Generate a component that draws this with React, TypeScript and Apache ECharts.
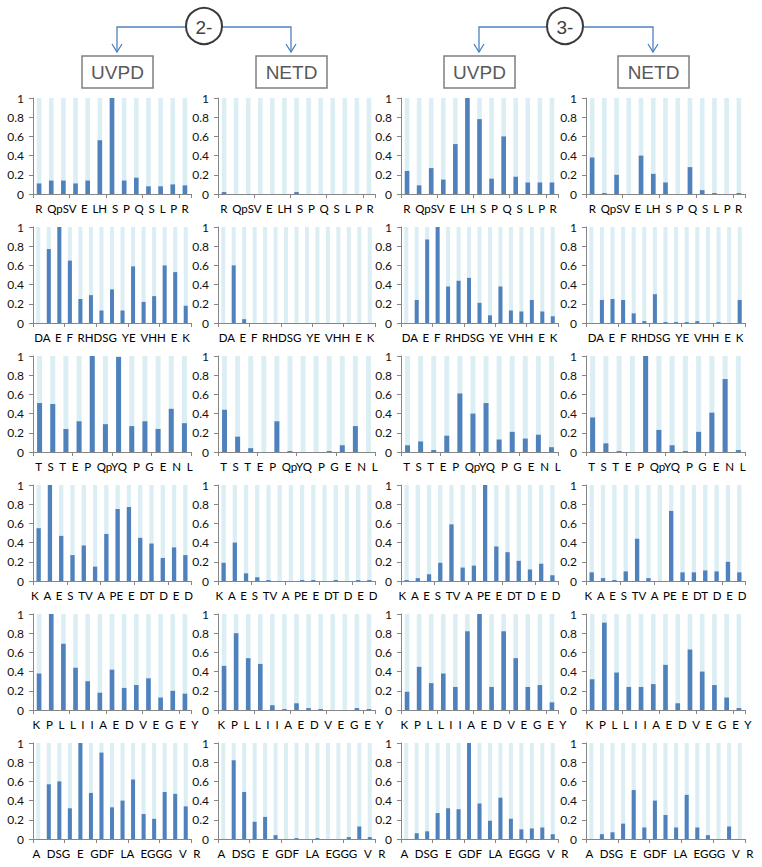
import React, { useEffect, useRef } from "react";
import * as echarts from "echarts";

// Residue sequences (one per row); bars are cleavage sites between consecutive residues
const residues: string[][] = [
  ["R", "Q", "pS", "V", "E", "L", "H", "S", "P", "Q", "S", "L", "P", "R"],
  ["D", "A", "E", "F", "R", "H", "D", "S", "G", "Y", "E", "V", "H", "H", "E", "K"],
  ["T", "S", "T", "E", "P", "Q", "pY", "Q", "P", "G", "E", "N", "L"],
  ["K", "A", "E", "S", "T", "V", "A", "P", "E", "E", "D", "T", "D", "E", "D"],
  ["K", "P", "L", "L", "I", "I", "A", "E", "D", "V", "E", "G", "E", "Y"],
  ["A", "D", "S", "G", "E", "G", "D", "F", "L", "A", "E", "G", "G", "G", "V", "R"],
];

// Sequence text shown under each panel of a row
const rowLabels: string[] = [
  "R QpSV E LH S P Q S L P R",
  "DA E F RHDSG YE VHH E K",
  "T S T E P QpYQ P G E N L",
  "K A E S TV A PE E DT D E D",
  "K P L L I I A E D V E G E Y",
  "A DSG E GDF LA EGGG V R",
];

const uvpd2: number[][] = [
  [0.11, 0.14, 0.14, 0.11, 0.14, 0.56, 1.0, 0.14, 0.17, 0.08, 0.08, 0.1, 0.09],
  [0, 0.77, 1.0, 0.65, 0.25, 0.29, 0.13, 0.35, 0.13, 0.59, 0.22, 0.28, 0.6, 0.53, 0.18],
  [0.51, 0.5, 0.24, 0.32, 1.0, 0.29, 0.99, 0.27, 0.32, 0.24, 0.45, 0.3],
  [0.55, 1.0, 0.47, 0.27, 0.37, 0.15, 0.49, 0.75, 0.77, 0.45, 0.39, 0.24, 0.35, 0.27],
  [0.38, 1.0, 0.69, 0.44, 0.3, 0.18, 0.42, 0.23, 0.26, 0.33, 0.13, 0.2, 0.17],
  [0, 0.57, 0.6, 0.32, 1.0, 0.48, 0.9, 0.33, 0.4, 0.62, 0.26, 0.21, 0.49, 0.47, 0.34],
];

const netd2: number[][] = [
  [0.02, 0, 0, 0, 0, 0, 0.02, 0, 0, 0, 0, 0, 0],
  [0, 0.6, 0.04, 0, 0, 0, 0, 0, 0, 0, 0, 0, 0, 0, 0],
  [0.44, 0.16, 0.04, 0, 0.32, 0.01, 0, 0, 0.01, 0.07, 0.27, 0],
  [0.19, 0.4, 0.08, 0.04, 0.01, 0, 0, 0.01, 0.01, 0, 0.01, 0, 0.01, 0.01],
  [0.46, 0.8, 0.54, 0.48, 0.05, 0.01, 0.07, 0.02, 0.01, 0, 0, 0.02, 0.01],
  [0, 0.82, 0.49, 0.18, 0.23, 0.04, 0, 0.01, 0, 0.01, 0, 0, 0.02, 0.13, 0.02],
];

const uvpd3: number[][] = [
  [0.24, 0.09, 0.27, 0.15, 0.52, 1.0, 0.78, 0.16, 0.6, 0.18, 0.12, 0.12, 0.12],
  [0, 0.24, 0.87, 1.0, 0.38, 0.44, 0.47, 0.21, 0.08, 0.38, 0.13, 0.12, 0.24, 0.12, 0.07],
  [0.07, 0.11, 0.02, 0.17, 0.61, 0.4, 0.51, 0.13, 0.21, 0.14, 0.18, 0.05],
  [0.01, 0.03, 0.07, 0.19, 0.59, 0.14, 0.16, 1.0, 0.36, 0.3, 0.21, 0.12, 0.18, 0.06],
  [0.19, 0.45, 0.28, 0.38, 0.24, 0.82, 1.0, 0.24, 0.82, 0.54, 0.24, 0.26, 0.08],
  [0, 0.06, 0.08, 0.27, 0.32, 0.31, 1.0, 0.37, 0.19, 0.43, 0.21, 0.1, 0.11, 0.12, 0.05],
];

const netd3: number[][] = [
  [0.38, 0.01, 0.2, 0, 0.4, 0.21, 0.12, 0, 0.28, 0.04, 0.01, 0, 0.01],
  [0, 0.24, 0.25, 0.24, 0.1, 0.02, 0.3, 0.01, 0.01, 0.01, 0.02, 0, 0.01, 0, 0.24],
  [0.36, 0.09, 0.01, 0, 1.0, 0.23, 0.07, 0.01, 0.21, 0.41, 0.76, 0.02],
  [0.09, 0.03, 0.01, 0.1, 0.44, 0.03, 0, 0.73, 0.09, 0.09, 0.11, 0.1, 0.2, 0.09],
  [0.32, 0.91, 0.39, 0.24, 0.24, 0.27, 0.47, 0.07, 0.63, 0.4, 0.26, 0.13, 0.02],
  [0, 0.05, 0.07, 0.16, 0.51, 0.12, 0.4, 0.25, 0.12, 0.46, 0.12, 0.04, 0, 0.13, 0],
];

const chargeStates = ["2-", "3-"];
const methods = ["UVPD", "NETD"];

const BAR = "#4f81bd";
const STRIPE = "#dbeef4";
const AXIS = "#868686";
const FONT = "Lato";
const LABEL_SIZE = 11.5;

// Widen a sequence string with a uniform gap (no-break + sixth-em spaces) to span the target width
function spreadLabel(label: string, target: number): string {
  const tokens = label.split(/\s+/);
  const canvas = document.createElement("canvas");
  const ctx = canvas.getContext("2d");
  const make = (a: number, b: number) =>
    tokens.join("\u00a0".repeat(a) + "\u2006".repeat(b));
  if (!ctx) return make(2, 0);
  ctx.font = `${LABEL_SIZE}px ${FONT}`;
  let best = make(1, 0);
  let bestErr = Infinity;
  for (let a = 1; a <= 5; a++) {
    for (let b = 0; b <= 3; b++) {
      const s = make(a, b);
      const err = Math.abs(ctx.measureText(s).width - target);
      if (err < bestErr) {
        bestErr = err;
        best = s;
      }
    }
  }
  return best;
}

export default function App() {
  const ref = useRef<HTMLDivElement>(null);

  useEffect(() => {
    document.body.style.margin = "0";
    if (!ref.current) return;
    const chart = echarts.init(ref.current, undefined, { renderer: "svg" });

    const columns = [uvpd2, netd2, uvpd3, netd3];
    const colLeft = [33, 218, 401, 586];
    const colWidth = [158, 157, 157, 159];
    const rowTop = [98, 227, 356, 485, 614, 743];
    const rowLabelWidth = [158, 155, 162, 157, 165, 167];
    const plotH = 96;

    const grids: any[] = [];
    const xAxes: any[] = [];
    const yAxes: any[] = [];
    const series: any[] = [];

    for (let r = 0; r < 6; r++) {
      const res = residues[r];
      const cats = res.slice(0, -1).map((a, i) => a + "|" + res[i + 1]);
      const labelText = spreadLabel(rowLabels[r], rowLabelWidth[r]);
      for (let c = 0; c < 4; c++) {
        const idx = grids.length;
        const pad = Math.max(0, rowLabelWidth[r] - colWidth[c]);
        grids.push({
          left: colLeft[c],
          top: rowTop[r],
          width: colWidth[c],
          height: plotH,
          containLabel: false,
        });
        xAxes.push({
          type: "category",
          gridIndex: idx,
          data: cats,
          boundaryGap: true,
          axisLine: { lineStyle: { color: AXIS, width: 1 } },
          axisTick: { show: true, length: 4, lineStyle: { color: AXIS } },
          axisLabel: { show: false },
          splitLine: { show: false },
          name: labelText,
          nameLocation: "middle",
          nameGap: 8,
          nameTextStyle: {
            fontSize: LABEL_SIZE,
            color: "#000",
            fontFamily: FONT,
            verticalAlign: "top",
            padding: [0, 0, 0, pad],
          },
        });
        yAxes.push({
          type: "value",
          gridIndex: idx,
          min: 0,
          max: 1,
          interval: 0.2,
          axisLine: { show: true, lineStyle: { color: AXIS, width: 1 } },
          axisTick: { show: true, length: 4, lineStyle: { color: AXIS } },
          axisLabel: {
            fontSize: 12,
            color: "#111",
            fontFamily: FONT,
            margin: 9,
          },
          splitLine: { show: false },
        });
        series.push({
          type: "bar",
          xAxisIndex: idx,
          yAxisIndex: idx,
          data: columns[c][r],
          barWidth: "38%",
          showBackground: true,
          backgroundStyle: { color: STRIPE },
          itemStyle: { color: BAR },
          silent: true,
        });
      }
    }

    // Header graphics
    const headers = [
      { cx: 204, left: 117, right: 291 },
      { cx: 565, left: 479, right: 653 },
    ];
    const graphic: any[] = [];
    const lineY = 27;
    const arrowY = 52;
    headers.forEach((h, i) => {
      graphic.push({
        type: "polyline",
        shape: { points: [[h.left, arrowY], [h.left, lineY], [h.right, lineY], [h.right, arrowY]] },
        style: { stroke: BAR, lineWidth: 1.3, fill: null },
      });
      [h.left, h.right].forEach((x) => {
        graphic.push({
          type: "polyline",
          shape: { points: [[x - 5, arrowY - 8], [x, arrowY], [x + 5, arrowY - 8]] },
          style: { stroke: BAR, lineWidth: 1.3, fill: null },
        });
      });
      graphic.push({
        type: "circle",
        shape: { cx: h.cx, cy: 26, r: 18 },
        style: { stroke: "#3a3a3a", lineWidth: 2, fill: "#ffffff" },
        z: 10,
      });
      graphic.push({
        type: "text",
        x: h.cx,
        y: 27,
        style: {
          text: chargeStates[i],
          fontSize: 19,
          fontFamily: "Liberation Sans",
          fill: "#404040",
          align: "center",
          verticalAlign: "middle",
        },
        z: 11,
      });
      const boxes = [
        { x: h.left - 35, m: methods[0] },
        { x: h.right - 35, m: methods[1] },
      ];
      boxes.forEach((b) => {
        graphic.push({
          type: "rect",
          shape: { x: b.x, y: 56, width: 71, height: 32 },
          style: { stroke: "#7f7f7f", lineWidth: 1.5, fill: "#ffffff" },
        });
        graphic.push({
          type: "text",
          x: b.x + 35.5,
          y: 72,
          style: {
            text: b.m,
            fontSize: 19,
            fontFamily: "Liberation Sans",
            fill: "#595959",
            align: "center",
            verticalAlign: "middle",
          },
        });
      });
    });

    chart.setOption({
      animation: false,
      backgroundColor: "#ffffff",
      grid: grids,
      xAxis: xAxes,
      yAxis: yAxes,
      series,
      graphic,
    });

    return () => {
      chart.dispose();
    };
  }, []);

  return <div ref={ref} style={{ width: 762, height: 867 }} />;
}
